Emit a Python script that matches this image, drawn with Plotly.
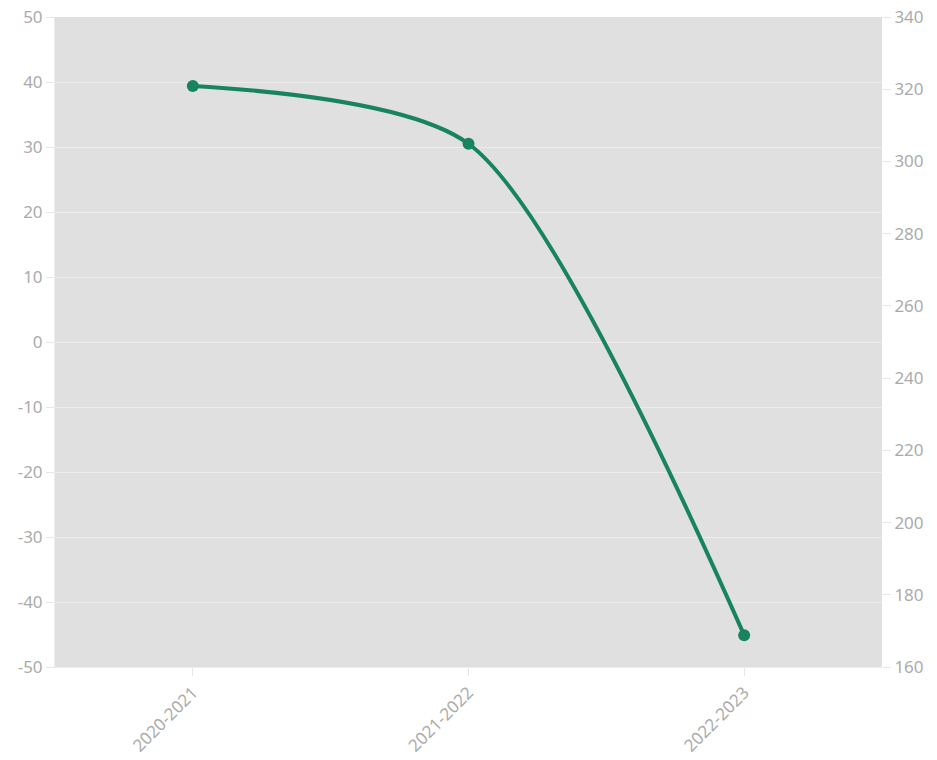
import plotly.graph_objects as go

categories = ["2020-2021", "2021-2022", "2022-2023"]
values = [39.4, 30.5, -45.1]
left_ticks = [-50, -40, -30, -20, -10, 0, 10, 20, 30, 40, 50]
right_ticks = [160, 180, 200, 220, 240, 260, 280, 300, 320, 340]

line_color = "#17845f"
tick_color = "#ababab"
font_family = "Noto Sans"
fs = 17

fig = go.Figure()
fig.add_trace(go.Scatter(
    x=categories, y=values, mode="lines+markers",
    line=dict(color=line_color, width=4, shape="spline", smoothing=0.75),
    marker=dict(color=line_color, size=12),
    showlegend=False, hoverinfo="skip",
))
fig.add_trace(go.Scatter(
    x=categories, y=[None, None, None], yaxis="y2",
    mode="lines", showlegend=False, hoverinfo="skip",
))

fig.update_layout(
    width=937, height=760,
    margin=dict(l=55, r=55, t=17, b=93),
    paper_bgcolor="white",
    plot_bgcolor="#e0e0e0",
    font=dict(family=font_family, size=fs, color=tick_color),
    xaxis=dict(
        type="category", range=[-0.5, 2.5], automargin=False,
        tickangle=-45, showgrid=False,
        ticks="outside", ticklen=8, tickcolor="#e6e6e6",
        showline=True, linecolor="#ececec", linewidth=1,
        tickfont=dict(size=fs, color=tick_color),
    ),
    yaxis=dict(
        range=[-50, 50], tickvals=left_ticks,
        ticktext=[str(v) for v in left_ticks], automargin=False,
        showgrid=True, gridcolor="#ececec", gridwidth=1,
        zeroline=False,
        ticks="outside", ticklen=8, tickcolor="#e6e6e6",
        showline=True, linecolor="#ececec", linewidth=1,
        tickfont=dict(size=fs, color=tick_color),
        ticklabeloverflow="allow",
    ),
    yaxis2=dict(
        range=[160, 340], tickvals=right_ticks,
        ticktext=[str(v) for v in right_ticks], automargin=False,
        overlaying="y", side="right",
        showgrid=False, zeroline=False,
        ticks="outside", ticklen=8, tickcolor="#e6e6e6",
        tickfont=dict(size=fs, color=tick_color),
        ticklabeloverflow="allow",
    ),
)

fig.write_html(
    "out.html",
    config={"displayModeBar": False},
    post_script="document.body.style.margin='0';",
)
